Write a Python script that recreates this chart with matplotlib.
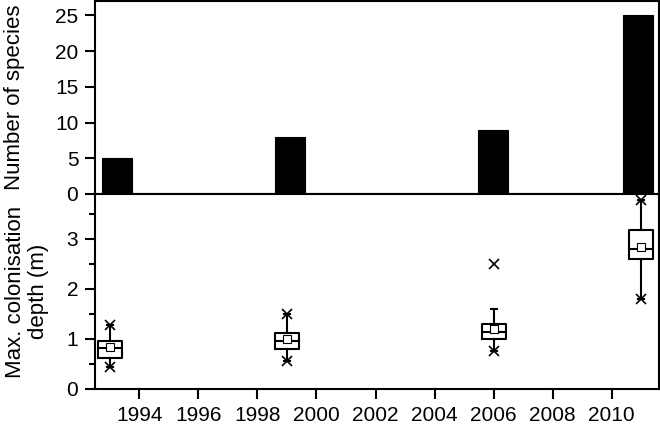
import matplotlib
matplotlib.use("Agg")
import matplotlib.pyplot as plt
import numpy as np

plt.rcParams['font.family'] = ['Liberation Sans', 'DejaVu Sans']

years = [1993, 1999, 2006, 2011]
n_species = [5, 8, 9, 25]

q1 = [0.63, 0.80, 1.00, 2.60]
med = [0.83, 0.96, 1.15, 2.80]
q3 = [0.96, 1.13, 1.31, 3.19]
mean = [0.85, 1.01, 1.21, 2.84]
whis_lo = [0.45, 0.57, 0.76, 1.81]
whis_hi = [1.28, 1.51, 1.60, 3.78]
fliers = [[0.45, 1.28], [0.57, 1.51], [0.76, 2.50], [1.81, 3.78]]

xticks_bottom = list(range(1994, 2011, 2))

fig = plt.figure(figsize=(6.6, 4.24), dpi=100)
W, H = 660, 424
axL, axR = 95, 659
ax1 = fig.add_axes([axL / W, (H - 194) / H, (axR - axL) / W, 193 / H])
ax2 = fig.add_axes([axL / W, (H - 389) / H, (axR - axL) / W, 195 / H])

lw = 1.5
for ax in (ax1, ax2):
    for s in ax.spines.values():
        s.set_linewidth(lw)

# top panel
ax1.set_xlim(1992.25, 2011.73)
ax1.bar(years, n_species, width=1.04, color='black', edgecolor='black', linewidth=0.8)
ax1.set_ylim(0, 27)
ax1.set_yticks([0, 5, 10, 15, 20, 25])
ax1.set_xticks(1993.69 + 2.37 * np.arange(8))
ax1.tick_params(axis='x', labelbottom=False, direction='out', length=9, width=lw)
ax1.tick_params(axis='y', direction='out', length=7.5, width=lw, labelsize=15, pad=4.5)
ax1.set_ylabel('Number of species', fontsize=16)
ax1.yaxis.set_label_coords((25 - axL) / (axR - axL), 0.5)

# bottom panel
ax2.set_xlim(1992.5, 2011.6)
stats = []
for i in range(len(years)):
    stats.append(dict(med=med[i], q1=q1[i], q3=q3[i], mean=mean[i],
                      whislo=whis_lo[i], whishi=whis_hi[i], fliers=fliers[i]))
ax2.bxp(stats, positions=years, widths=0.82, showmeans=True, showcaps=True,
        showfliers=True, patch_artist=False, manage_ticks=False,
        boxprops=dict(color='black', linewidth=1.5),
        medianprops=dict(color='black', linewidth=1.5),
        whiskerprops=dict(color='black', linewidth=1.5),
        capprops=dict(color='black', linewidth=1.5),
        capwidths=0.2,
        meanprops=dict(marker='s', markerfacecolor='white', markeredgecolor='black',
                       markersize=5.5, markeredgewidth=0.8),
        flierprops=dict(marker='x', markeredgecolor='black', markersize=7,
                        markeredgewidth=1.2))
ax2.set_ylim(0, 3.9)
ax2.set_yticks([0, 1, 2, 3])
ax2.set_yticks([0.5, 1.5, 2.5, 3.5], minor=True)
ax2.set_xticks(xticks_bottom)
ax2.set_xticklabels([str(y) for y in xticks_bottom])
ax2.tick_params(axis='both', which='major', direction='out', length=7.5, width=lw,
                labelsize=15, pad=4.5)
ax2.tick_params(axis='y', which='minor', direction='out', length=4, width=lw)
ax2.set_ylabel('Max. colonisation\ndepth (m)', fontsize=16, linespacing=1.15)
ax2.yaxis.set_label_coords((49 - axL) / (axR - axL), 0.5)

fig.savefig('out.png', dpi=100)
